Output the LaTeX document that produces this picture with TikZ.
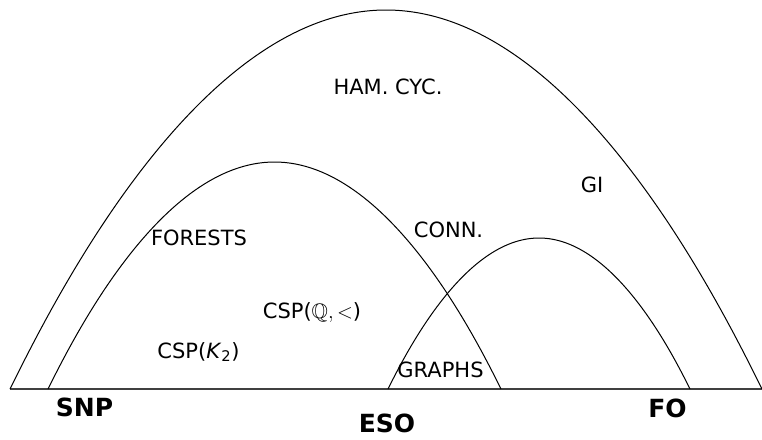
\documentclass[tikz,border=0pt]{standalone}
\usepackage{amssymb}
\usepackage{fontspec}
\setmainfont{DejaVu Sans}

\begin{document}
\begin{tikzpicture}[x=1pt,y=-1pt,
  arc/.style={line width=1pt},
  lbl/.style={inner sep=0pt,font=\fontsize{21}{24}\selectfont},
  cls/.style={inner sep=0pt,font=\fontsize{25}{28}\selectfont\bfseries}]
  \useasboundingbox (0,0) rectangle (762,439);
  % base line and the three classes
  \draw[line width=1.2pt,black!75] (10,389) -- (762,389);
  \draw[arc] (10,389) parabola bend (386,10) (762,389);
  \draw[arc] (48,389) parabola bend (274.5,162) (501,389);
  \draw[arc] (388,389) parabola bend (539,238) (690,389);
  % problems
  \node[lbl] (ham) at (388,87) {HAM. CYC.};
  \node[lbl] (gi) at (592,185) {GI};
  \node[lbl] (forests) at (199,237.5) {FORESTS};
  \node[lbl] (conn) at (448.5,230) {CONN.};
  \node[lbl] (cspq) at (312,313) {CSP($\mathbb{Q},<$)};
  \node[lbl] (cspk) at (198.5,352) {CSP(\textit{K}\textsubscript{2})};
  \node[lbl] (graphs) at (440.5,370) {GRAPHS};
  % logics
  \node[cls] (snp) at (84.5,407.5) {SNP};
  \node[cls] (eso) at (387,423) {ESO};
  \node[cls] (fo) at (667.5,408) {FO};
\end{tikzpicture}
\end{document}
